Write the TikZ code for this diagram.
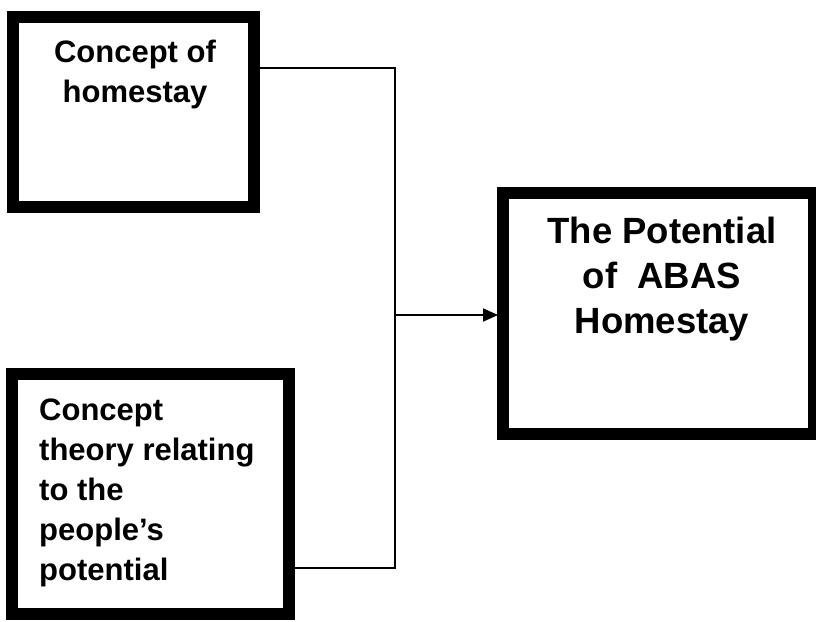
\documentclass[tikz,border=0pt]{standalone}
\usepackage{fontspec}
\setmainfont{Liberation Sans}
\usetikzlibrary{arrows.meta}
\begin{document}
\begin{tikzpicture}[x=1pt,y=-1pt,
  framebox/.style={draw=black,fill=white,line width=12pt,inner sep=0pt,outer sep=0pt,minimum width=#1},
  link/.style={draw=black,line width=1.8pt},
  smalltxt/.style={font=\fontsize{31}{40}\selectfont\bfseries,inner sep=0pt},
  bigtxt/.style={font=\fontsize{36.5}{45}\selectfont\bfseries,inner sep=0pt}]
\useasboundingbox (0,0) rectangle (816,621);
% junction points
\coordinate (jtop) at (395,68);
\coordinate (jbot) at (395,568);
\coordinate (jmid) at (395,315);
% boxes
\node[framebox=241pt,minimum height=190pt] (b1) at (133.5,112) {};
\node[framebox=277pt,minimum height=240pt] (b2) at (150.5,494) {};
\node[framebox=311pt,minimum height=241pt] (b3) at (658.5,313.5) {};
% connectors
\draw[link] (b1.east |- jtop) -- (jtop) -- (jbot) -- (b2.east |- jbot);
\draw[link,-{Triangle[length=15pt,width=13pt]},shorten >=5pt] (jmid) -- (b3.west |- jmid);
% texts
\node[smalltxt,align=center,anchor=base] (t1) at (135,102) {Concept of\\homestay};
\node[smalltxt,align=left,anchor=base west] (t2) at (39,580) {Concept\\theory relating\\to the\\people’s\\potential};
\node[bigtxt,align=center,anchor=base] (t3) at (662,333) {The Potential\\of\ \ ABAS\\Homestay};
\end{tikzpicture}
\end{document}
